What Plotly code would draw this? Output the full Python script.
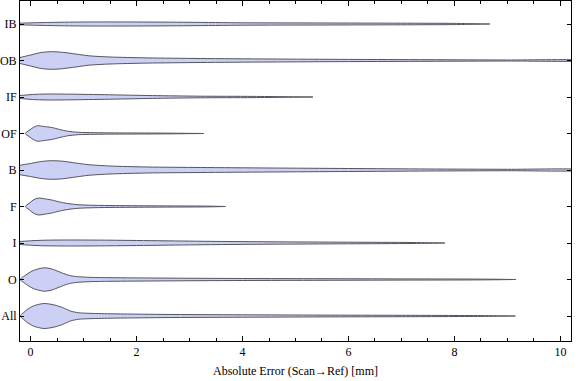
import plotly.graph_objects as go

# Categories from bottom to top
categories = ["All", "O", "I", "F", "B", "OF", "IF", "OB", "IB"]

# Density profiles: error values [mm] and relative density (half-width)
err_IB = [-0.5, -0.2, 0.3, 1.0, 2.0, 3.0, 4.0, 5.5, 7.0, 8.0, 8.67]
den_IB = [0.0, 0.8, 1.5, 2.0, 2.0, 1.7, 1.2, 1.0, 0.8, 0.6, 0.0]

err_OB = [-0.45, -0.2, 0.0, 0.2, 0.4, 0.6, 0.85, 1.1, 1.5, 2.2, 3.2, 4.5, 6.0, 7.5, 9.0, 10.4]
den_OB = [0.0, 3.0, 5.5, 8.0, 8.8, 8.2, 6.5, 4.7, 3.5, 2.6, 2.0, 1.5, 1.1, 0.8, 0.5, 0.2]

err_IF = [-0.6, -0.2, 0.1, 0.4, 0.8, 1.4, 2.3, 3.2, 4.2, 5.33]
den_IF = [0.0, 1.5, 2.7, 3.0, 2.8, 2.3, 1.4, 0.8, 0.6, 0.0]

err_OF = [-0.1, -0.03, 0.05, 0.13, 0.25, 0.4, 0.55, 0.7, 0.9, 1.2, 1.6, 2.5, 3.27]
den_OF = [0.0, 3.0, 6.0, 7.8, 7.0, 6.0, 4.0, 2.3, 1.2, 0.8, 0.6, 0.4, 0.0]

err_B = [-0.5, -0.2, 0.0, 0.2, 0.4, 0.6, 0.85, 1.1, 1.5, 2.2, 3.2, 4.5, 6.0, 7.5, 9.0, 10.4]
den_B = [0.0, 4.7, 6.5, 8.5, 9.3, 8.8, 7.0, 5.3, 4.0, 3.0, 2.5, 2.0, 1.5, 1.0, 0.7, 0.3]

err_F = [-0.1, -0.03, 0.05, 0.15, 0.25, 0.4, 0.55, 0.7, 0.9, 1.2, 1.6, 2.5, 3.3, 3.68]
den_F = [0.0, 3.0, 6.5, 8.5, 7.8, 6.5, 4.5, 3.0, 1.8, 1.2, 0.9, 0.6, 0.4, 0.0]

err_I = [-0.5, -0.2, 0.2, 0.7, 1.5, 2.5, 3.5, 4.5, 6.0, 7.2, 7.82]
den_I = [0.0, 1.5, 2.7, 3.0, 2.8, 2.2, 1.6, 1.2, 0.8, 0.5, 0.0]

err_O = [-0.2, -0.13, -0.05, 0.05, 0.25, 0.4, 0.55, 0.7, 0.85, 1.1, 1.5, 2.5, 4.0, 5.5, 7.0, 8.5, 9.16]
den_O = [0.0, 3.0, 6.0, 9.0, 11.7, 10.5, 7.5, 4.5, 3.0, 2.2, 1.8, 1.4, 1.0, 0.8, 0.6, 0.4, 0.0]

err_All = [-0.2, -0.13, -0.05, 0.05, 0.25, 0.45, 0.6, 0.75, 0.9, 1.1, 1.5, 2.5, 4.0, 5.5, 7.0, 8.5, 9.15]
den_All = [0.0, 3.5, 7.0, 10.0, 12.5, 11.0, 8.5, 5.0, 3.3, 2.7, 2.2, 1.6, 1.2, 0.9, 0.7, 0.4, 0.0]

profiles = {
    "All": (err_All, den_All), "O": (err_O, den_O), "I": (err_I, den_I),
    "F": (err_F, den_F), "B": (err_B, den_B), "OF": (err_OF, den_OF),
    "IF": (err_IF, den_IF), "OB": (err_OB, den_OB), "IB": (err_IB, den_IB),
}

WIDTH_SCALE = 1 / 36.5  # density units -> category units
FILL = "#CCD0F4"
EDGE = "#55555F"
FONT = "Liberation Serif"

fig = go.Figure()
for i, cat in enumerate(categories):
    pos = i + 1
    xs, ds = profiles[cat]
    upper_y = [pos + d * WIDTH_SCALE for d in ds]
    lower_y = [pos - d * WIDTH_SCALE for d in ds]
    x_poly = list(xs) + list(reversed(xs))
    y_poly = upper_y + list(reversed(lower_y))
    fig.add_trace(go.Scatter(
        x=x_poly, y=y_poly, mode="lines", fill="toself",
        fillcolor=FILL, line=dict(color=EDGE, width=1, shape="spline", smoothing=0.8),
        showlegend=False, hoverinfo="skip",
    ))

fig.update_layout(
    width=576, height=381,
    margin=dict(l=20, r=5, t=1, b=40, autoexpand=False),
    paper_bgcolor="white", plot_bgcolor="white",
    font=dict(family=FONT, size=12, color="black"),
    showlegend=False,
)
fig.update_xaxes(
    range=[-0.2, 10.2], tickvals=[0, 2, 4, 6, 8, 10],
    ticks="inside", ticklen=5, tickcolor="black", tickwidth=1,
    minor=dict(dtick=0.5, tick0=0, ticks="inside", ticklen=3, tickcolor="black", showgrid=False),
    showline=True, linecolor="black", linewidth=1, mirror="ticks",
    showgrid=False, zeroline=False, automargin=False,
    title=dict(text="Absolute Error (Scan→Ref) [mm]", standoff=8, font=dict(family=FONT, size=12)),
    tickfont=dict(family=FONT, size=12),
)
fig.update_yaxes(
    range=[0.315, 9.63], tickvals=list(range(1, len(categories) + 1)), ticktext=categories,
    ticks="inside", ticklen=4, tickcolor="black", tickwidth=1,
    showline=True, linecolor="black", linewidth=1, mirror="ticks",
    showgrid=False, zeroline=False, automargin=False,
    tickfont=dict(family=FONT, size=12),
)

fig.write_html(
    "out.html",
    config={"displayModeBar": False},
    post_script="document.body.style.margin='0';document.body.style.padding='0';document.body.style.overflow='hidden';",
)
